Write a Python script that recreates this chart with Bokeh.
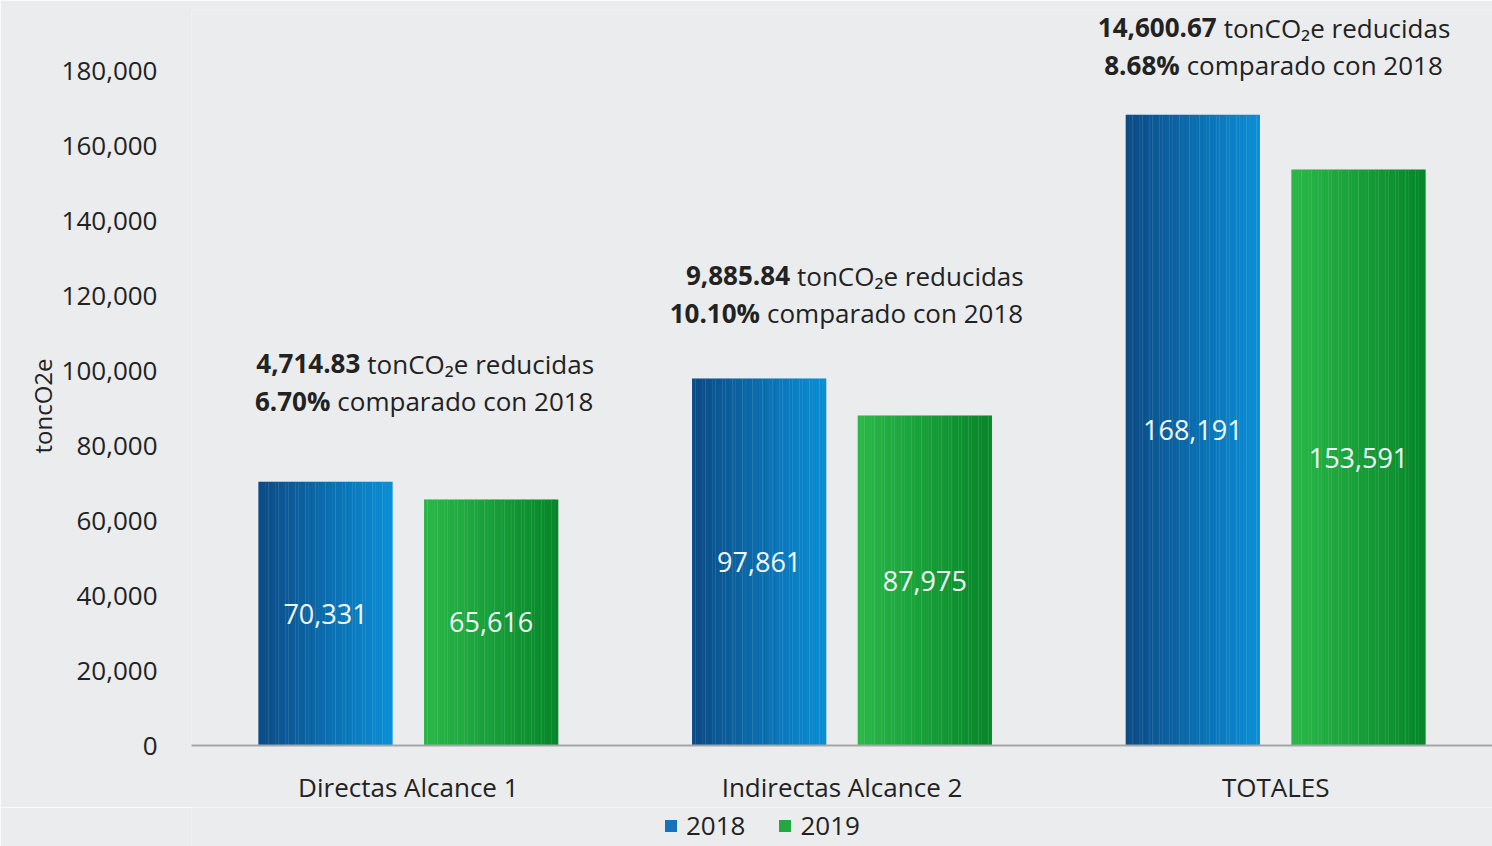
from bokeh.plotting import figure
from bokeh.layouts import column
from bokeh.models import ColumnDataSource, FactorRange, Legend, LegendItem, NumeralTickFormatter, Title
from bokeh.transform import dodge
from bokeh.core.properties import value
from bokeh.embed import file_html
from bokeh.resources import INLINE

# ---------------- data ----------------
categories = ["Directas Alcance 1", "Indirectas Alcance 2", "TOTALES"]
years = ["2018", "2019"]
v2018 = [70331, 97861, 168191]
v2019 = [65616, 87975, 153591]
reduced = [4714.83, 9885.84, 14600.67]
pct = [6.70, 10.10, 8.68]
y_ticks = [0, 20000, 40000, 60000, 80000, 100000, 120000, 140000, 160000, 180000]
y_label = "toncO2e"

# ---------------- styles ----------------
FONT = "Open Sans"
BG = "#eaecee"
TXT = "#222222"
bar_w = 0.309
offsets = {"2018": -0.191, "2019": 0.191}
grads = {"2018": ("#0b4a85", "#0a8fd6"), "2019": ("#2ab848", "#06862a")}
legend_col = {"2018": "#1473ba", "2019": "#22a83e"}
# annotation placement (pixel offsets relative to category centre / 2018 bar top)
split1 = [-48, -52, -59]
split2 = [-78, -82, -96]
gap = 7
yoff1 = [-118, -103, -87]
line_gap = 37


def lerp(c1, c2, t):
    a = [int(c1[i:i + 2], 16) for i in (1, 3, 5)]
    b = [int(c2[i:i + 2], 16) for i in (1, 3, 5)]
    return "#%02x%02x%02x" % tuple(round(a[k] + (b[k] - a[k]) * t) for k in range(3))


src = ColumnDataSource(dict(
    cat=categories,
    v2018=v2018, v2019=v2019,
    m2018=[v / 2 for v in v2018], m2019=[v / 2 for v in v2019],
    l2018=["{:,}".format(v) for v in v2018], l2019=["{:,}".format(v) for v in v2019],
    b1=["{:,.2f}".format(r) for r in reduced],
    r1=["tonCO\u2082e reducidas"] * 3,
    b2=["{:.2f}%".format(q) for q in pct],
    r2=["comparado con 2018"] * 3,
    xs1=split1, xs2=split2,
    xr1=[s + gap for s in split1], xr2=[s + gap for s in split2],
    yo1=yoff1, yo2=[y + line_gap for y in yoff1],
))

p = figure(x_range=FactorRange(factors=categories), y_range=(0, 196000),
           frame_width=1301, frame_height=735, output_backend="svg", toolbar_location=None,
           min_border_left=191, min_border_right=0, min_border_top=10, min_border_bottom=55,
           background_fill_color=BG, border_fill_color=BG, outline_line_color=None)

N = 40
for yr in years:
    c1, c2 = grads[yr]
    for i in range(N):
        t = (i + 0.5) / N
        off = offsets[yr] - bar_w / 2 + (i + 0.5) * bar_w / N
        p.vbar(x=dodge("cat", off, range=p.x_range), top="v" + yr, width=bar_w / N * 1.08,
               fill_color=lerp(c1, c2, t), line_color=None, source=src)
    p.text(x=dodge("cat", offsets[yr], range=p.x_range), y="m" + yr, text="l" + yr, source=src,
           text_align="center", text_baseline="middle", text_color="#f2f7fa",
           text_font=value(FONT), text_font_size="27px")

# annotations
for b, rcol, xs, xr, yo in (("b1", "r1", "xs1", "xr1", "yo1"), ("b2", "r2", "xs2", "xr2", "yo2")):
    p.text(x="cat", y="v2018", text=b, source=src, x_offset=xs, y_offset=yo,
           text_align="right", text_baseline="middle", text_color=TXT,
           text_font=value(FONT), text_font_size="26px", text_font_style="bold")
    p.text(x="cat", y="v2018", text=rcol, source=src, x_offset=xr, y_offset=yo,
           text_align="left", text_baseline="middle", text_color=TXT,
           text_font=value(FONT), text_font_size="26px")

p.xgrid.grid_line_color = None
p.ygrid.grid_line_color = None

p.yaxis.ticker = y_ticks
p.yaxis.formatter = NumeralTickFormatter(format="0,0")
p.yaxis.axis_line_color = None
p.yaxis.major_tick_line_color = None
p.yaxis.minor_tick_line_color = None
p.yaxis.major_label_standoff = 28
p.yaxis.major_label_text_font = FONT
p.yaxis.major_label_text_font_size = "26px"
p.yaxis.major_label_text_color = TXT

ytitle = Title(text=y_label, align="left", offset=292, standoff=0,
               text_font=FONT, text_font_size="24px", text_font_style="normal", text_color=TXT)
p.add_layout(ytitle, "left")

p.xaxis.axis_line_color = "#a4a6a8"
p.xaxis.axis_line_width = 2
p.xaxis.major_tick_line_color = None
p.xaxis.minor_tick_line_color = None
p.xaxis.major_label_standoff = 17
p.xaxis.major_label_text_font = FONT
p.xaxis.major_label_text_font_size = "26px"
p.xaxis.major_label_text_color = TXT

# legend strip under the chart
lg = figure(frame_width=1301, frame_height=40, x_range=(0, 1), y_range=(0, 1),
            output_backend="svg", toolbar_location=None,
            x_axis_type=None, y_axis_type=None,
            min_border_left=191, min_border_right=0, min_border_top=0, min_border_bottom=0,
            background_fill_color=BG, border_fill_color=BG, outline_line_color=None)
lg.xgrid.grid_line_color = None
lg.ygrid.grid_line_color = None
items = []
for yr in years:
    r = lg.vbar(x=[-10], top=[-10], width=0.1, fill_color=legend_col[yr], line_color=None)
    items.append(LegendItem(label=yr, renderers=[r]))
legend = Legend(items=items, orientation="horizontal", location=(472, 4),
                background_fill_alpha=0, border_line_color=None,
                label_text_font=FONT, label_text_font_size="26px", label_text_color=TXT,
                glyph_width=15, glyph_height=15, label_standoff=8, spacing=32,
                padding=0, margin=0, label_height=20)
lg.add_layout(legend)

open("out.html", "w").write(file_html(column(p, lg, spacing=0), INLINE))
